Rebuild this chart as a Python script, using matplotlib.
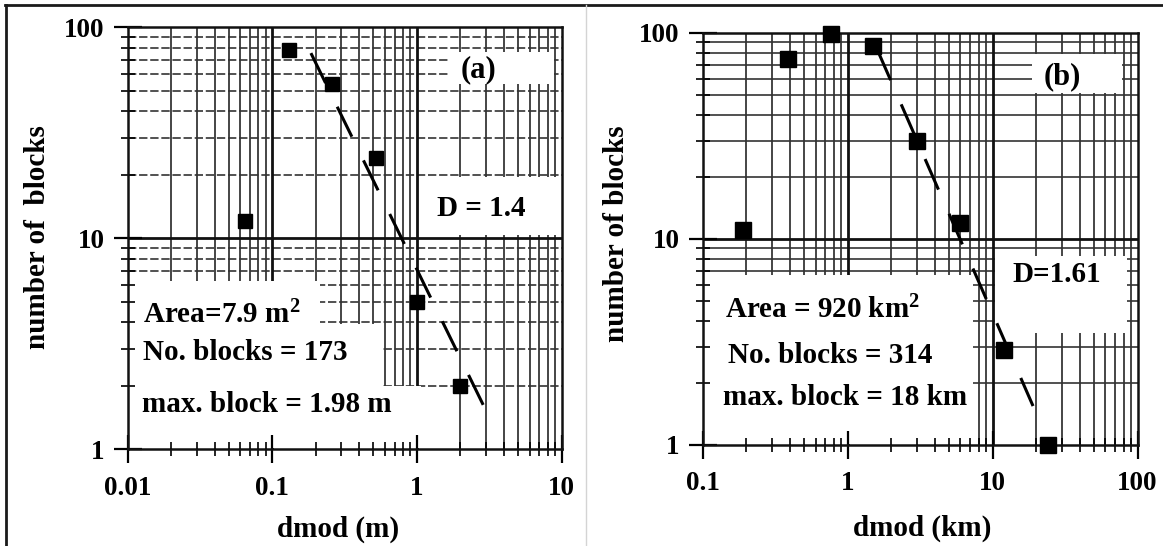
import numpy as np
import matplotlib
matplotlib.use("Agg")
import matplotlib.pyplot as plt
from matplotlib.patches import Rectangle
from matplotlib.lines import Line2D
from matplotlib.ticker import LogLocator, NullFormatter

plt.rcParams['font.family'] = ['Liberation Serif', 'DejaVu Serif']
plt.rcParams['font.weight'] = 'bold'
plt.rcParams['mathtext.fontset'] = 'custom'
plt.rcParams['mathtext.rm'] = 'Liberation Serif:bold'
plt.rcParams['mathtext.it'] = 'Liberation Serif:bold:italic'
plt.rcParams['mathtext.bf'] = 'Liberation Serif:bold'
plt.rcParams['lines.scale_dashes'] = False

# (a) block counts, dmod in metres
dmod_a = [0.065, 0.13, 0.26, 0.52, 1.0, 2.0]
count_a = [12, 78, 54, 24, 5, 2]
D_a = 1.4
C_a = 7.1
fit_span_a = [0.185, 3.0]
xticks_a = [0.01, 0.1, 1, 10]
xlabels_a = ['0.01', '0.1', '1', '10']

# (b) block counts, dmod in km
dmod_b = [0.19, 0.39, 0.77, 1.5, 3.0, 6.0, 12, 24]
count_b = [11, 75, 99, 86, 30, 12, 2.9, 1]
D_b = 1.61
C_b = 177
fit_span_b = [1.6, 19.0]
xticks_b = [0.1, 1, 10, 100]
xlabels_b = ['0.1', '1', '10', '100']

yticks = [1, 10, 100]
ylabels = ['1', '10', '100']

W, H = 1163, 546
fig = plt.figure(figsize=(W / 100, H / 100), dpi=100)
fig.patch.set_facecolor('white')


def fx(px):
    return px / W


def fy(py):
    return 1 - py / H


def log_lines(lo, hi):
    e0, e1 = int(round(np.log10(lo))), int(round(np.log10(hi)))
    minor = [m * 10.0 ** e for e in range(e0, e1) for m in range(2, 10)]
    major = [10.0 ** e for e in range(e0 + 1, e1)]
    return minor, major


def graph_paper(ax, xlim, ylim, hdash):
    xmin, xmaj = log_lines(*xlim)
    ymin, ymaj = log_lines(*ylim)
    xt = ax.get_xaxis_transform()
    yt = ax.get_yaxis_transform()
    ax.vlines(xmin, 0, 1, transform=xt, colors='#262626', lw=1.2, zorder=0.5)
    ax.hlines(ymin, 0, 1, transform=yt, colors='#333333', lw=1.2,
              linestyles=hdash, zorder=0.5)
    ax.vlines(xmaj, 0, 1, transform=xt, colors='#111111', lw=2.0, zorder=0.6)
    ax.hlines(ymaj, 0, 1, transform=yt, colors='#111111', lw=2.0, zorder=0.6)


def blank(ax, x0, x1, y0, y1):
    ax.add_patch(Rectangle((x0, y0), x1 - x0, y1 - y0, facecolor='white',
                           edgecolor='none', zorder=1))


def style_axes(ax, xlim, xticks, xlabels):
    ax.set_xscale('log')
    ax.set_yscale('log')
    ax.set_xlim(*xlim)
    ax.set_ylim(1, 100)
    ax.set_xticks(xticks, xlabels)
    ax.set_yticks(yticks, ylabels)
    for axis in (ax.xaxis, ax.yaxis):
        axis.set_minor_locator(LogLocator(base=10, subs=np.arange(2, 10)))
        axis.set_minor_formatter(NullFormatter())
    ax.tick_params(which='major', direction='inout', length=20, width=1.6,
                   labelsize=19.5, colors='black')
    ax.tick_params(axis='x', which='major', pad=9)
    ax.tick_params(axis='y', which='major', pad=6.5)
    ax.tick_params(which='minor', direction='inout', length=10, width=1.2)
    for s in ax.spines.values():
        s.set_linewidth(1.8)
        s.set_color('#111111')


def fit_line(ax, span, C, D):
    x = np.geomspace(span[0], span[1], 60)
    ax.plot(x, C * x ** (-D), color='black', lw=2.2, dashes=(24, 19), zorder=3)


# ---- panel (a)
xlim_a = (0.01, 10)
ax_a = fig.add_axes([fx(127.6), fy(449.2), (561.6 - 127.6) / W, (449.2 - 27.2) / H])
style_axes(ax_a, xlim_a, xticks_a, xlabels_a)
graph_paper(ax_a, xlim_a, (1, 100), (0, (6, 2)))
blank(ax_a, 1.7, 8.8, 54, 76)
blank(ax_a, 1.1, 9.8, 10.4, 19.5)
blank(ax_a, 0.0101, 0.215, 1.01, 6.3)
blank(ax_a, 0.215, 0.58, 1.01, 3.9)
blank(ax_a, 0.58, 1.06, 1.01, 2.0)
fit_line(ax_a, fit_span_a, C_a, D_a)
ax_a.plot(dmod_a, count_a, ls='none', marker='s', ms=9.5, color='black',
          zorder=4, clip_on=False)

# ---- panel (b)
xlim_b = (0.1, 100)
ax_b = fig.add_axes([fx(702.7), fy(445), (1137.6 - 702.7) / W, (445 - 33) / H])
style_axes(ax_b, xlim_b, xticks_b, xlabels_b)
graph_paper(ax_b, xlim_b, (1, 100), 'solid')
blank(ax_b, 18.8, 78, 51, 79)
blank(ax_b, 10.4, 85, 3.5, 8.3)
blank(ax_b, 0.101, 7.3, 1.01, 6.7)
fit_line(ax_b, fit_span_b, C_b, D_b)
ax_b.plot(dmod_b, count_b, ls='none', marker='s', ms=11.5, color='black',
          zorder=4, clip_on=False)

# ---- annotations
big = 21
fig.text(fx(479), fy(70), '(a)', ha='center', va='center', size=22)
fig.text(fx(481), fy(216), 'D = 1.4', ha='center', va='baseline', size=big)
fig.text(fx(143), fy(323), 'Area=7.9 m$^2$', ha='left', va='baseline', size=big)
fig.text(fx(143), fy(360), 'No. blocks = 173', ha='left', va='baseline', size=big)
fig.text(fx(142), fy(411.7), 'max. block = 1.98 m', ha='left', va='baseline', size=big)

fig.text(fx(1062), fy(77), '(b)', ha='center', va='center', size=22)
fig.text(fx(1057), fy(281.7), 'D=1.61', ha='center', va='baseline', size=big)
fig.text(fx(725), fy(318), 'Area = 920 km$^2$', ha='left', va='baseline', size=big)
fig.text(fx(728), fy(363), 'No. blocks = 314', ha='left', va='baseline', size=big)
fig.text(fx(723), fy(405), 'max. block = 18 km', ha='left', va='baseline', size=big)

fig.text(fx(38), fy(237), 'number of  blocks', rotation=90, ha='center', va='center', size=big)
fig.text(fx(616), fy(233.5), 'number of blocks', rotation=90, ha='center', va='center', size=big)
fig.text(fx(338), fy(529), 'dmod (m)', ha='center', va='center', size=big)
fig.text(fx(922), fy(528), 'dmod (km)', ha='center', va='center', size=big)

# ---- page frame and divider
fig.add_artist(Line2D([fx(5), 1], [fy(5), fy(5)], color='#1a1a1a', lw=2))
fig.add_artist(Line2D([fx(6), fx(6)], [fy(5), 0], color='#1a1a1a', lw=2))
fig.add_artist(Line2D([fx(586), fx(586)], [fy(5), 0], color='#d4d4d4', lw=1))

fig.savefig('out.png', dpi=100, facecolor='white')
